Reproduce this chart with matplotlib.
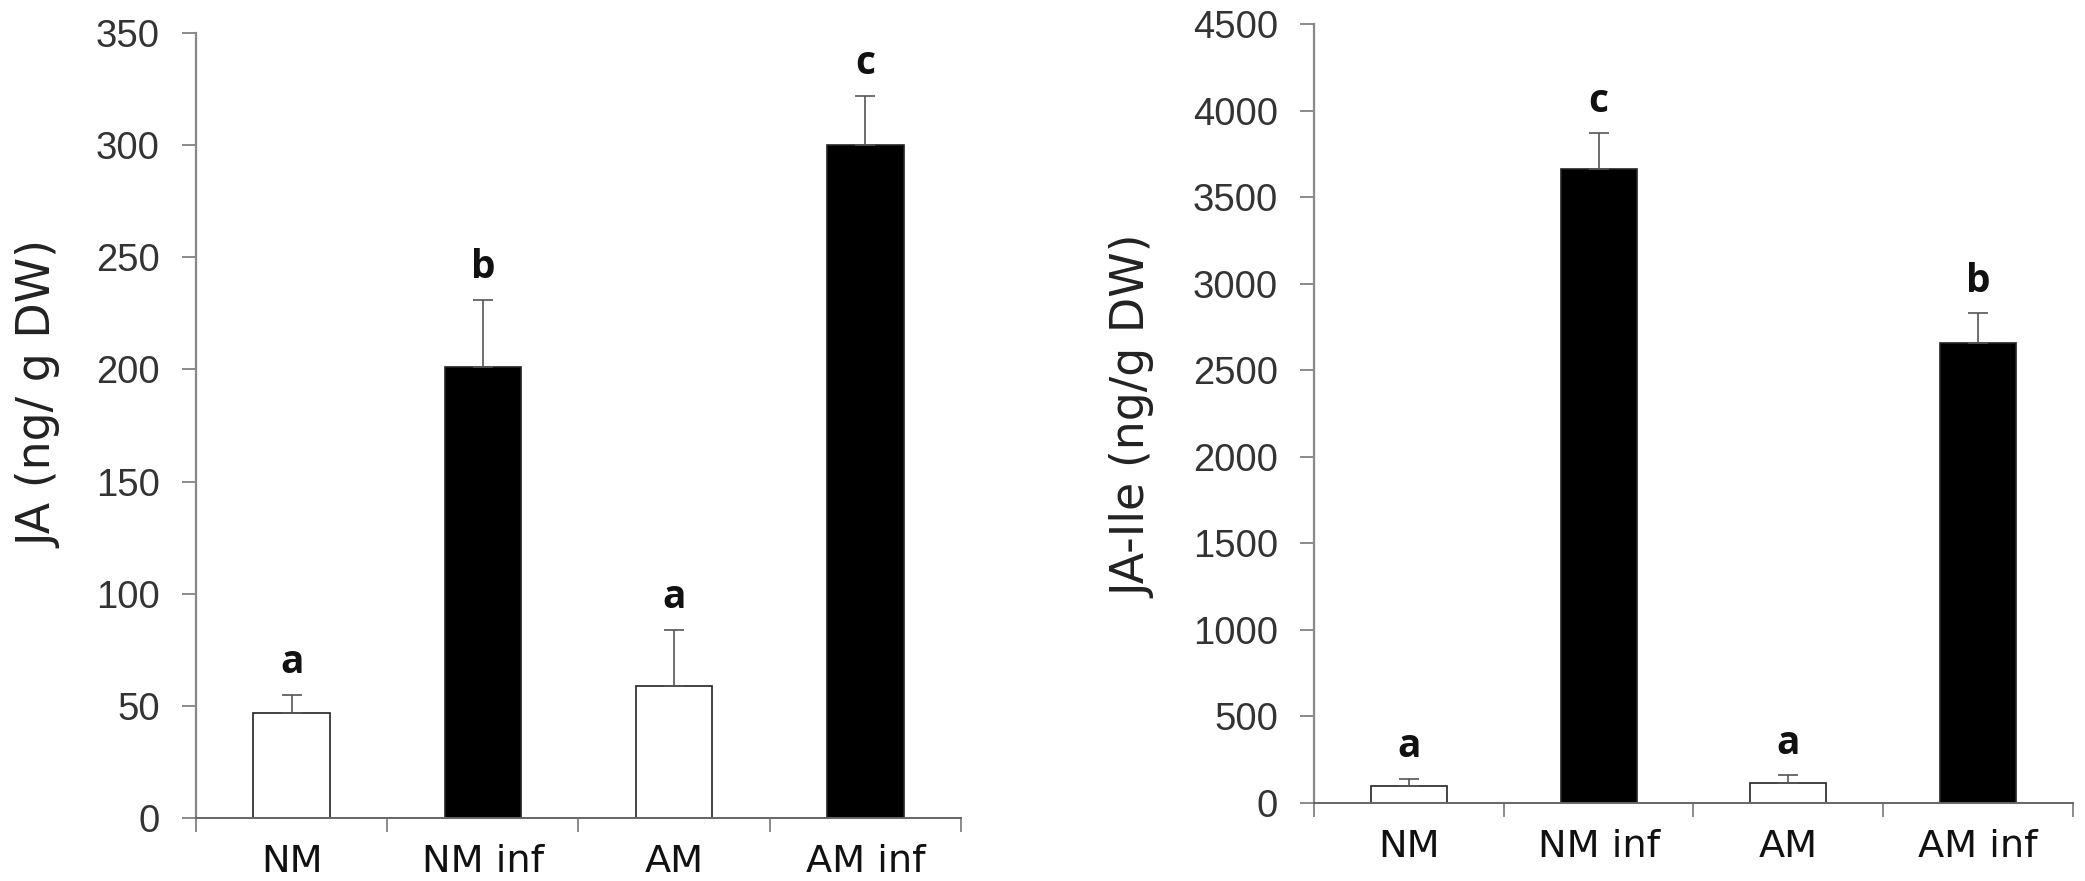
import matplotlib
matplotlib.use("Agg")
import matplotlib.pyplot as plt
import numpy as np

categories = ["NM", "NM inf", "AM", "AM inf"]
ja_values = [47, 201, 59, 300]
ja_err = [8, 30, 25, 22]
ja_letters = ["a", "b", "a", "c"]
jaile_values = [100, 3660, 115, 2660]
jaile_err = [40, 210, 45, 170]
jaile_letters = ["a", "c", "a", "b"]
bar_colors = ["white", "black", "white", "black"]

fig = plt.figure(figsize=(20.85, 8.81), dpi=100)
ax1 = fig.add_axes([0.0940, 0.0715, 0.3669, 0.891])
ax2 = fig.add_axes([0.6302, 0.0885, 0.3640, 0.8842])

def draw(ax, vals, errs, letters, ylim, ystep, ylabel, label_xy):
    x = np.arange(len(categories))
    ax.bar(x, vals, width=0.4, color=bar_colors, edgecolor="#222222",
           linewidth=1.2, zorder=2)
    ax.errorbar(x, vals, yerr=[np.zeros(len(vals)), errs], fmt="none",
                ecolor="#555555", elinewidth=1.2, capsize=7.5, capthick=1.2,
                zorder=3)
    for xi, v, e, l in zip(x, vals, errs, letters):
        ax.annotate(l, (xi, v + e), xytext=(0, 9), textcoords="offset points",
                    ha="center", va="bottom", fontsize=28, fontweight="bold",
                    family="Open Sans", color="#111111")
    ax.set_xlim(-0.5, 3.5)
    ax.set_ylim(0, ylim)
    ax.set_yticks(np.arange(0, ylim + 1, ystep))
    ax.set_xticks(x)
    ax.set_xticklabels(categories, family="DejaVu Sans", fontsize=27.5,
                       color="#111111")
    ax.set_xticks(np.arange(-0.5, 4, 1), minor=True)
    ax.tick_params(axis="x", which="major", length=0, pad=19)
    ax.tick_params(axis="x", which="minor", length=10, width=1.2,
                   color="#777777", direction="out")
    ax.tick_params(axis="y", length=10, width=1.2, color="#777777",
                   labelsize=27.5, labelcolor="#333333", pad=16)
    for lab in ax.get_yticklabels():
        lab.set_family("Liberation Sans")
    for s in ["top", "right"]:
        ax.spines[s].set_visible(False)
    ax.spines["left"].set_color("#888888")
    ax.spines["left"].set_linewidth(1.6)
    ax.spines["bottom"].set_color("#666666")
    ax.spines["bottom"].set_linewidth(1.4)
    ax.set_ylabel(ylabel, family="DejaVu Sans", fontsize=33, color="#222222")
    ax.yaxis.set_label_coords(*label_xy)

draw(ax1, ja_values, ja_err, ja_letters, 350, 50, "JA (ng/ g DW)",
     (-0.175, 0.54))
draw(ax2, jaile_values, jaile_err, jaile_letters, 4500, 500,
     "JA-Ile (ng/g DW)", (-0.208, 0.496))

fig.savefig("out.png", dpi=100, facecolor="white")
